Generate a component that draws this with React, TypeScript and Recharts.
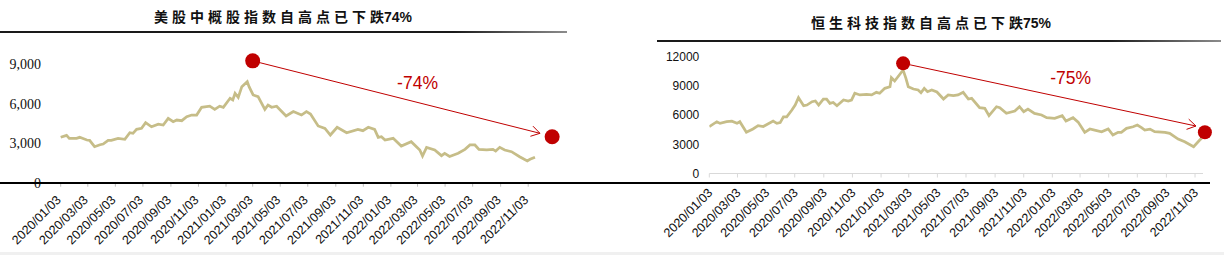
import React from 'react';
import { LineChart, Line, XAxis, YAxis, ReferenceDot, ReferenceLine } from 'recharts';

const DAY = 86400000;
const toTs = (s: string) => new Date(s.replace(/\//g, '-') + 'T00:00:00Z').getTime();
const fmtDate = (ts: number) => {
  const d = new Date(ts);
  const mm = String(d.getUTCMonth() + 1).padStart(2, '0');
  const dd = String(d.getUTCDate()).padStart(2, '0');
  return `${d.getUTCFullYear()}/${mm}/${dd}`;
};

const tickLabels = [
  '2020/01/03', '2020/03/03', '2020/05/03', '2020/07/03', '2020/09/03', '2020/11/03',
  '2021/01/03', '2021/03/03', '2021/05/03', '2021/07/03', '2021/09/03', '2021/11/03',
  '2022/01/03', '2022/03/03', '2022/05/03', '2022/07/03', '2022/09/03', '2022/11/03',
];

// 美股中概股指数
const usDates = [
  '2020-01-03', '2020-01-16', '2020-01-22', '2020-02-07', '2020-02-14', '2020-03-01', '2020-03-07',
  '2020-03-18', '2020-03-30', '2020-04-06', '2020-04-17', '2020-04-24', '2020-05-09', '2020-05-24',
  '2020-06-04', '2020-06-11', '2020-06-19', '2020-06-30', '2020-07-09', '2020-07-22', '2020-08-06',
  '2020-08-17', '2020-08-28', '2020-09-08', '2020-09-16', '2020-09-27', '2020-10-08', '2020-10-19',
  '2020-10-30', '2020-11-10', '2020-11-28', '2020-12-09', '2020-12-20', '2020-12-28', '2021-01-12',
  '2021-01-18', '2021-01-23', '2021-01-30', '2021-02-07', '2021-02-19', '2021-02-23', '2021-03-04',
  '2021-03-15', '2021-03-30', '2021-04-06', '2021-04-14', '2021-04-25', '2021-05-16', '2021-06-01',
  '2021-06-19', '2021-06-30', '2021-07-09', '2021-07-26', '2021-08-10', '2021-08-22', '2021-09-06',
  '2021-09-27', '2021-10-22', '2021-11-02', '2021-11-14', '2021-11-28', '2021-12-06', '2021-12-13',
  '2021-12-21', '2022-01-08', '2022-01-26', '2022-02-17', '2022-03-08', '2022-03-14', '2022-03-23',
  '2022-04-10', '2022-04-25', '2022-05-02', '2022-05-13', '2022-06-01', '2022-06-16', '2022-06-27',
  '2022-07-08', '2022-07-17', '2022-08-03', '2022-08-17', '2022-08-23', '2022-09-01', '2022-09-12',
  '2022-09-27', '2022-10-15', '2022-11-01', '2022-11-07', '2022-11-18',
];
const usValues = [
  3440, 3590, 3365, 3365, 3440, 3236, 3210,
  2730, 2880, 2930, 3210, 3210, 3365, 3290,
  3790, 3740, 4045, 4120, 4550, 4240, 4440,
  4370, 4880, 4620, 4750, 4700, 5000, 5130,
  5130, 5715, 5800, 5560, 5800, 5715, 6400,
  6270, 6780, 6470, 7280, 7660, 7280, 6650,
  6520, 5560, 5890, 5720, 5800, 5055, 5390,
  5130, 5390, 5210, 4300, 4120, 3615, 4200,
  3790, 4045, 3945, 4200, 4045, 3440, 3490,
  3236, 3365, 2780, 3110, 2480, 2020, 2680,
  2480, 2050, 2220, 1990, 2230, 2530, 2860,
  2860, 2530, 2480, 2530, 2400, 2680, 2480,
  2350, 1970, 1645, 1770, 1925,
];

// 恒生科技指数
const hsDates = [
  '2020-01-03', '2020-01-19', '2020-01-26', '2020-02-09', '2020-02-20', '2020-03-02', '2020-03-08',
  '2020-03-22', '2020-04-05', '2020-04-16', '2020-04-27', '2020-05-18', '2020-05-26', '2020-06-02',
  '2020-06-09', '2020-06-16', '2020-06-27', '2020-07-04', '2020-07-11', '2020-07-22', '2020-07-29',
  '2020-08-09', '2020-08-16', '2020-08-23', '2020-09-02', '2020-09-09', '2020-09-16', '2020-09-23',
  '2020-10-01', '2020-10-15', '2020-10-25', '2020-11-01', '2020-11-08', '2020-11-19', '2020-12-03',
  '2020-12-14', '2020-12-24', '2020-12-31', '2021-01-11', '2021-01-22', '2021-01-25', '2021-02-01',
  '2021-02-19', '2021-02-25', '2021-03-02', '2021-03-13', '2021-03-23', '2021-03-29', '2021-04-05',
  '2021-04-12', '2021-04-21', '2021-05-02', '2021-05-16', '2021-05-26', '2021-06-06', '2021-06-16',
  '2021-06-27', '2021-07-08', '2021-07-15', '2021-08-01', '2021-08-12', '2021-08-21', '2021-09-06',
  '2021-09-13', '2021-09-27', '2021-10-15', '2021-10-25', '2021-11-03', '2021-11-12', '2021-11-26',
  '2021-12-11', '2021-12-22', '2022-01-08', '2022-01-24', '2022-02-01', '2022-02-16', '2022-02-27',
  '2022-03-13', '2022-03-24', '2022-04-03', '2022-04-18', '2022-05-02', '2022-05-12', '2022-05-23',
  '2022-05-30', '2022-06-10', '2022-06-24', '2022-07-03', '2022-07-12', '2022-07-19', '2022-07-30',
  '2022-08-09', '2022-08-31', '2022-09-10', '2022-09-28', '2022-10-12', '2022-10-31', '2022-11-13',
  '2022-11-17',
];
const hsValues = [
  4806, 5320, 5150, 5320, 5380, 5155, 5320,
  4230, 4570, 4910, 4830, 5390, 5150, 5230,
  5830, 5830, 6520, 7035, 7785, 6960, 7030,
  7375, 7450, 7035, 7650, 7650, 7210, 7300,
  6960, 7550, 7450, 7550, 8240, 8070, 8140,
  8070, 8340, 8240, 8750, 8915, 9840, 9500,
  10630, 9780, 8915, 8680, 8580, 8300, 8750,
  8400, 8580, 8370, 7650, 8070, 8000, 8070,
  8340, 7650, 7720, 6760, 6690, 5940, 6860,
  6760, 6180, 6420, 6860, 6350, 6620, 6180,
  6010, 5740, 5670, 5940, 5400, 5740, 5280,
  4230, 4570, 4460, 4290, 4570, 3950, 4230,
  4230, 4640, 4800, 4980, 4720, 4460, 4560,
  4290, 4230, 4120, 3540, 3260, 2750, 3440,
  3610,
];

// annotations: high point, low point, arrow tip, drop label
const usHigh = { date: '2021-03-03', value: 9235 };
const usLow = { date: '2022-12-26', value: 3488 };
const usArrowTip = { date: '2022-11-29', value: 3745 };
const usDrop = { date: '2022-03-03', value: 7537, text: '-74%' };

const hsHigh = { date: '2021-02-19', value: 11318 };
const hsLow = { date: '2022-11-24', value: 4231 };
const hsArrowTip = { date: '2022-11-05', value: 4878 };
const hsDrop = { date: '2022-02-11', value: 9777, text: '-75%' };

const usTitle = '美股中概股指数自高点已下跌';
const hsTitle = '恒生科技指数自高点已下跌';

const usData = usDates.map((d, i) => ({ t: toTs(d), v: usValues[i] }));
const hsData = hsDates.map((d, i) => ({ t: toTs(d), v: hsValues[i] }));
const tickTs = tickLabels.map(toTs);
const T0 = tickTs[0];

const LINE = '#C6BD88';
const RED = '#C00000';

const DateTick = (props: any) => {
  const { x, y, payload, ox, oy } = props;
  const ax = x + ox;
  const ay = y + oy;
  return (
    <text x={ax} y={ay} transform={`rotate(-45 ${ax} ${ay})`} textAnchor="end"
      fontSize={12.6} fontFamily="'Liberation Sans', Arial, sans-serif" fill="#111">
      {fmtDate(payload.value)}
    </text>
  );
};

const Arrow = (props: any) => {
  const { x1, y1, x2, y2 } = props;
  const a = Math.atan2(y2 - y1, x2 - x1);
  const len = 10;
  const spread = 0.55;
  const p1 = [x2 - len * Math.cos(a - spread), y2 - len * Math.sin(a - spread)];
  const p2 = [x2 - len * Math.cos(a + spread), y2 - len * Math.sin(a + spread)];
  return (
    <g>
      <line x1={x1} y1={y1} x2={x2} y2={y2} stroke={RED} strokeWidth={1} />
      <polyline points={`${p1[0]},${p1[1]} ${x2},${y2} ${p2[0]},${p2[1]}`} fill="none" stroke={RED} strokeWidth={1} />
    </g>
  );
};

const DropText = (text: string) => (p: any) => (
  <text x={p.cx} y={p.cy} textAnchor="middle" dominantBaseline="central" fill={RED}
    fontSize={17.5} fontFamily="'Liberation Sans', Arial, sans-serif">{text}</text>
);

const Title = ({ text, pct, left, top, width }: any) => (
  <div style={{
    position: 'absolute', left, top, width, height: 20, lineHeight: '20px', textAlign: 'center',
    fontFamily: "'Noto Sans CJK SC', sans-serif", fontWeight: 700, fontSize: 14, color: '#111', whiteSpace: 'nowrap',
  }}>
    <span style={{ letterSpacing: 4 }}>{text.slice(0, -1)}</span>
    <span>{text.slice(-1)}</span>
    <span style={{ fontFamily: "'Liberation Sans', Arial, sans-serif" }}>{pct}</span>
  </div>
);

const Rule = ({ left, top, width }: any) => (
  <div style={{
    position: 'absolute', left, top, width, height: 2,
    background: 'linear-gradient(to right, #1a1a1a 0%, #1a1a1a 80%, #8c8c8c 100%)',
  }} />
);

export default function App() {
  // left chart geometry
  const usPlotLeft = 46;
  const usPxPerDay = 0.4517;
  const usFirstTickPx = 60.7;
  const usDomain = [
    T0 - ((usFirstTickPx - usPlotLeft) / usPxPerDay) * DAY,
    T0 + ((600 - usFirstTickPx) / usPxPerDay) * DAY,
  ];
  // right chart geometry
  const hsDomain = [T0, T0 + ((1203 - 709.3) / 0.4693) * DAY];

  return (
    <div style={{ position: 'absolute', left: 0, top: 0, width: 1224, height: 255, background: '#fff', overflow: 'hidden' }}>
      <Title text={usTitle} pct="74%" left={0} top={5.7} width={566} />
      <Rule left={0} top={31.3} width={567} />
      <Title text={hsTitle} pct="75%" left={657} top={11.7} width={548} />
      <Rule left={657} top={39.7} width={564} />

      <div style={{ position: 'absolute', left: 0, top: 0 }}>
        <LineChart width={600} height={255} data={usData} margin={{ top: 24.4, right: 0, bottom: 0, left: 0 }}>
          <XAxis dataKey="t" type="number" domain={usDomain} allowDataOverflow ticks={tickTs} interval={0}
            height={72.3} axisLine={false} tickSize={4} tickMargin={0} tickLine={{ stroke: '#BFBFBF' }}
            tick={(p: any) => <DateTick {...p} ox={1} oy={14} />} />
          <YAxis type="number" domain={[0, 12000]} ticks={[0, 3000, 6000, 9000]} width={usPlotLeft}
            axisLine={false} tickLine={false} tickSize={0} tickMargin={5}
            tickFormatter={(v: number) => v.toLocaleString('en-US')}
            tick={{ fontSize: 14, fill: '#111', fontFamily: "'Liberation Serif', serif" }} />
          <Line dataKey="v" stroke={LINE} strokeWidth={2.75} dot={false} isAnimationActive={false} />
          <ReferenceLine segment={[{ x: toTs(usHigh.date), y: usHigh.value }, { x: toTs(usArrowTip.date), y: usArrowTip.value }]}
            ifOverflow="visible" shape={Arrow} />
          <ReferenceDot x={toTs(usHigh.date)} y={usHigh.value} r={7.5} fill={RED} stroke="none" ifOverflow="visible" />
          <ReferenceDot x={toTs(usLow.date)} y={usLow.value} r={7.5} fill={RED} stroke="none" ifOverflow="visible" />
          <ReferenceDot x={toTs(usDrop.date)} y={usDrop.value} r={0} ifOverflow="visible" shape={DropText(usDrop.text)} />
        </LineChart>
      </div>

      <div style={{ position: 'absolute', left: 620, top: 0 }}>
        <LineChart width={604} height={255} data={hsData} margin={{ top: 56.7, right: 21, bottom: 0, left: 0 }}>
          <XAxis dataKey="t" type="number" domain={hsDomain} allowDataOverflow ticks={tickTs} interval={0}
            height={81.5} axisLine={{ stroke: '#D9D9D9' }} tickSize={4} tickMargin={0} tickLine={{ stroke: '#D9D9D9' }}
            tick={(p: any) => <DateTick {...p} ox={4} oy={16} />} />
          <YAxis type="number" domain={[0, 12000]} ticks={[0, 3000, 6000, 9000, 12000]} width={89.3}
            axisLine={false} tickLine={false} tickSize={0} tickMargin={10}
            tick={{ fontSize: 12, fill: '#111', fontFamily: "'Liberation Sans', Arial, sans-serif" }} />
          <Line dataKey="v" stroke={LINE} strokeWidth={2.75} dot={false} isAnimationActive={false} />
          <ReferenceLine segment={[{ x: toTs(hsHigh.date), y: hsHigh.value }, { x: toTs(hsArrowTip.date), y: hsArrowTip.value }]}
            ifOverflow="visible" shape={Arrow} />
          <ReferenceDot x={toTs(hsHigh.date)} y={hsHigh.value} r={7} fill={RED} stroke="none" ifOverflow="visible" />
          <ReferenceDot x={toTs(hsLow.date)} y={hsLow.value} r={7} fill={RED} stroke="none" ifOverflow="visible" />
          <ReferenceDot x={toTs(hsDrop.date)} y={hsDrop.value} r={0} ifOverflow="visible" shape={DropText(hsDrop.text)} />
        </LineChart>
      </div>

      <div style={{ position: 'absolute', left: 0, top: 182, width: 1210, height: 1.5, background: '#000' }} />
      <div style={{ position: 'absolute', left: 0, top: 252, width: 1224, height: 3, background: '#F0F0F0' }} />
    </div>
  );
}
